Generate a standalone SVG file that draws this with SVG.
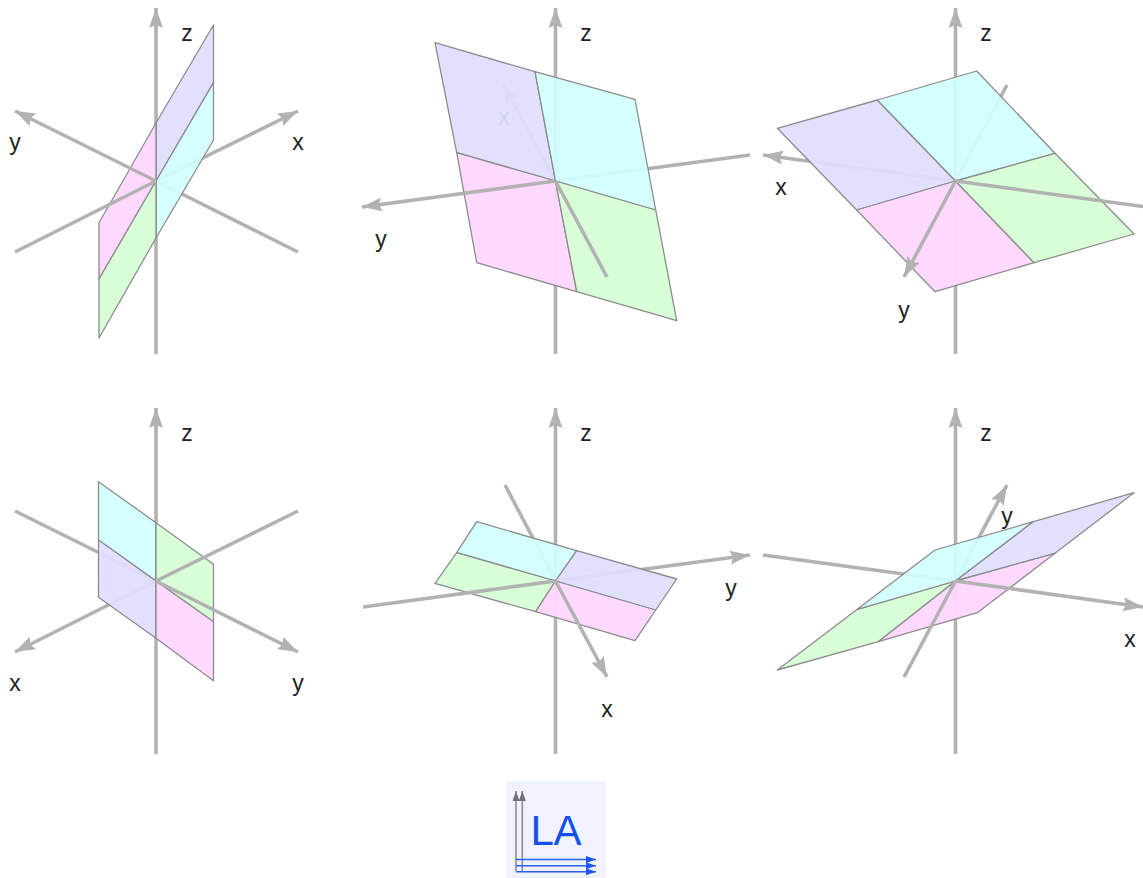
<svg xmlns="http://www.w3.org/2000/svg" width="1143" height="878" viewBox="0 0 1143 878">
<style>
.ax{stroke:#b2b2b2;stroke-width:3.6;fill:none}
.arr{marker-end:url(#head)}
.p{stroke:#8c8c8c;stroke-width:1.3;stroke-linejoin:round;fill-opacity:.93}
.lav{fill:#dfdfff}.cya{fill:#d2ffff}.mag{fill:#ffd6ff}.gre{fill:#d6ffd6}
.t{font-family:"Liberation Sans",Arial,sans-serif;font-size:23px;fill:#222;text-anchor:middle}
.lg{stroke:#8c8c96;stroke-width:1.6;fill:none;marker-end:url(#hg)}
.lb{stroke:#2a5ff0;stroke-width:1.5;fill:none;marker-end:url(#hb)}
</style>
<defs>
<marker id="head" markerUnits="userSpaceOnUse" markerWidth="22" markerHeight="18" refX="20" refY="9" orient="auto"><path d="M20,9 L0,2 L3,9 L0,16Z" fill="#b2b2b2"/></marker>
<marker id="hg" markerUnits="userSpaceOnUse" markerWidth="12" markerHeight="10" refX="10" refY="5" orient="auto"><path d="M10,5 L0,1.5 L0,8.5Z" fill="#70707a"/></marker>
<marker id="hb" markerUnits="userSpaceOnUse" markerWidth="12" markerHeight="10" refX="10" refY="5" orient="auto"><path d="M10,5 L0,1.5 L0,8.5Z" fill="#1f55f0"/></marker>
</defs>
<rect width="1143" height="878" fill="#fff"/>

<g id="panel-1">
<line class="ax arr" x1="156" y1="354" x2="156" y2="8"/>
<line class="ax arr" x1="156" y1="181" x2="298" y2="111"/>
<line class="ax" x1="156" y1="181" x2="298" y2="252"/>
<polygon class="p lav" points="213.5,25 213.5,82.7 156,181 156,123"/>
<polygon class="p cya" points="213.5,82.7 213.5,140 156,238 156,181"/>
<polygon class="p mag" points="156,123 156,181 99,279 99,222.7"/>
<polygon class="p gre" points="156,181 156,238 99,338 99,279"/>
<line class="ax arr" x1="156" y1="181" x2="15" y2="111"/>
<line class="ax" x1="156" y1="181" x2="15" y2="252"/>
<text class="t" x="187" y="41">z</text><text class="t" x="298" y="150">x</text><text class="t" x="15" y="150">y</text>
</g>

<g id="panel-2">
<line class="ax arr" x1="555.5" y1="354" x2="555.5" y2="8"/>
<line class="ax arr" x1="555.5" y1="181" x2="503" y2="84"/>
<line class="ax" x1="555.5" y1="181" x2="750" y2="155"/>
<text class="t" x="504" y="125">x</text>
<polygon class="p lav" points="435,42.7 535,71.7 555.5,181 456.7,152.7"/>
<polygon class="p cya" points="535,71.7 635,99.3 655.7,210 555.5,181"/>
<polygon class="p mag" points="456.7,152.7 555.5,181 576.7,291.7 476.7,262.7"/>
<polygon class="p gre" points="555.5,181 655.7,210 676.7,320.7 576.7,291.7"/>
<line class="ax arr" x1="555.5" y1="181" x2="362" y2="207"/>
<line class="ax" x1="555.5" y1="181" x2="607" y2="277"/>
<text class="t" x="586" y="41">z</text><text class="t" x="381" y="247">y</text>
</g>

<g id="panel-3">
<line class="ax arr" x1="955.5" y1="354" x2="955.5" y2="8"/>
<line class="ax arr" x1="955.5" y1="181" x2="763" y2="155"/>
<line class="ax" x1="955.5" y1="181" x2="1007" y2="85"/>
<polygon class="p lav" points="777.3,128.3 877.3,100 955.5,181 856.7,210"/>
<polygon class="p cya" points="877.3,100 976.7,71 1055,153.3 955.5,181"/>
<polygon class="p mag" points="856.7,210 955.5,181 1034,262.7 935,291.7"/>
<polygon class="p gre" points="955.5,181 1055,153.3 1134,234 1034,262.7"/>
<line class="ax arr" x1="955.5" y1="181" x2="904" y2="277"/>
<line class="ax" x1="955.5" y1="181" x2="1143" y2="206.5"/>
<text class="t" x="986" y="41">z</text><text class="t" x="781" y="195">x</text><text class="t" x="904" y="318">y</text>
</g>

<g id="panel-4">
<line class="ax arr" x1="156" y1="754" x2="156" y2="408"/>
<line class="ax arr" x1="156" y1="581" x2="15" y2="652"/>
<line class="ax" x1="156" y1="581" x2="15" y2="511"/>
<polygon class="p cya" points="98.5,481.7 156,522.7 156,581 98.5,540"/>
<polygon class="p gre" points="156,522.7 213.5,564.3 213.5,621.7 156,581"/>
<polygon class="p lav" points="98.5,540 156,581 156,638.3 98.5,597.3"/>
<polygon class="p mag" points="156,581 213.5,621.7 213.5,680.7 156,638.3"/>
<line class="ax" x1="156" y1="581" x2="298" y2="511"/>
<line class="ax arr" x1="156" y1="581" x2="298" y2="652"/>
<text class="t" x="187" y="441">z</text><text class="t" x="15" y="691">x</text><text class="t" x="298" y="691">y</text>
</g>

<g id="panel-5">
<line class="ax arr" x1="555.5" y1="754" x2="555.5" y2="408"/>
<line class="ax" x1="555.5" y1="581" x2="505" y2="485"/>
<line class="ax arr" x1="555.5" y1="581" x2="750" y2="555"/>
<polygon class="p cya" points="476.7,521.7 576.7,550.7 555.5,581 456.7,552.7"/>
<polygon class="p lav" points="576.7,550.7 676.7,579 655.7,610 555.5,581"/>
<polygon class="p gre" points="456.7,552.7 555.5,581 535.7,611.7 435,583.3"/>
<polygon class="p mag" points="555.5,581 655.7,610 635,640.7 535.7,611.7"/>
<line class="ax" x1="555.5" y1="581" x2="363" y2="607"/>
<line class="ax arr" x1="555.5" y1="581" x2="607" y2="677"/>
<text class="t" x="586" y="441">z</text><text class="t" x="731" y="596">y</text><text class="t" x="607" y="717">x</text>
</g>

<g id="panel-6">
<line class="ax arr" x1="955.5" y1="754" x2="955.5" y2="408"/>
<line class="ax" x1="955.5" y1="581" x2="763" y2="555"/>
<line class="ax arr" x1="955.5" y1="581" x2="1007" y2="485"/>
<polygon class="p gre" points="777.3,670 857.3,609.3 955.5,581 878.3,641.7"/>
<polygon class="p cya" points="857.3,609.3 935,550 1033.3,521.7 955.5,581"/>
<polygon class="p lav" points="955.5,581 1033.3,521.7 1134,492.7 1055,553.3"/>
<polygon class="p mag" points="878.3,641.7 955.5,581 1055,553.3 977.3,612.7"/>
<line class="ax arr" x1="955.5" y1="581" x2="1143" y2="607"/>
<line class="ax" x1="955.5" y1="581" x2="904" y2="677"/>
<text class="t" x="986" y="441">z</text><text class="t" x="1007" y="524">y</text><text class="t" x="1130" y="647">x</text>
</g>

<g id="logo">
<rect x="506" y="781" width="100" height="97" fill="#f0f3fd"/>
<line class="lg" x1="516" y1="871" x2="516" y2="791"/>
<line class="lg" x1="522.3" y1="871" x2="522.3" y2="791"/>
<line class="lb" x1="516" y1="859.5" x2="596" y2="859.5"/>
<line class="lb" x1="516" y1="865.7" x2="596" y2="865.7"/>
<line class="lb" x1="516" y1="871.8" x2="596" y2="871.8"/>
<text x="530.5" y="845" font-family="'Liberation Sans',Arial,sans-serif" font-size="42" textLength="51" fill="#1450ee">LA</text>
</g>
</svg>
